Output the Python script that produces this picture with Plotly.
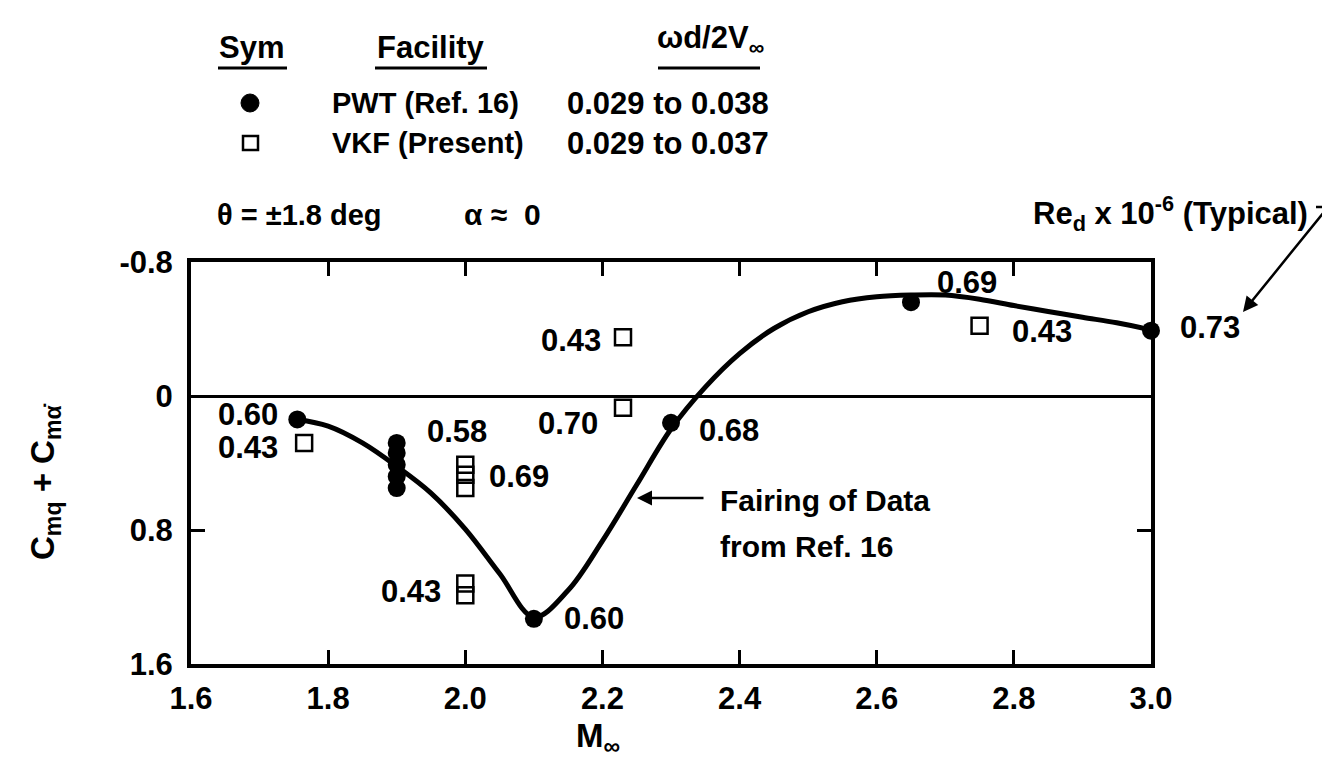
import plotly.graph_objects as go

# ---------------- data ----------------
# PWT (Ref. 16) – filled circles
mach_pwt = [1.755, 1.9, 1.9, 1.9, 1.9, 1.9, 2.1, 2.3, 2.65, 3.0]
cm_pwt = [0.14, 0.28, 0.34, 0.41, 0.48, 0.55, 1.33, 0.16, -0.56, -0.39]

# VKF (Present) – open squares
mach_vkf = [1.765, 2.0, 2.0, 2.0, 2.0, 2.0, 2.23, 2.23, 2.75]
cm_vkf = [0.28, 0.41, 0.47, 0.55, 1.12, 1.19, -0.35, 0.07, -0.42]

# Fairing of data from Ref. 16
mach_fair = [1.755, 1.80, 1.85, 1.90, 1.95, 2.00, 2.05, 2.10, 2.15, 2.20, 2.25, 2.30,
             2.35, 2.40, 2.45, 2.50, 2.55, 2.60, 2.65, 2.70, 2.75, 2.80, 2.85, 2.90,
             2.95, 3.00]
cm_fair = [0.14, 0.18, 0.28, 0.42, 0.58, 0.795, 1.06, 1.32, 1.16, 0.865, 0.53, 0.197,
           -0.053, -0.253, -0.403, -0.503, -0.563, -0.593, -0.603, -0.603, -0.578,
           -0.54, -0.505, -0.47, -0.437, -0.394]

# Reynolds number labels (Re_d x 10^-6), attached to point indices
pwt_label_idx = [0, 1, 6, 7, 8, 9]
pwt_label_txt = ["0.60", "0.58", "0.60", "0.68", "0.69", "0.73"]
vkf_label_idx = [0, 2, 4, 6, 7, 8]
vkf_label_txt = ["0.43", "0.69", "0.43", "0.43", "0.70", "0.43"]

x_ticks = [1.6, 1.8, 2.0, 2.2, 2.4, 2.6, 2.8, 3.0]
x_tick_text = ["1.6", "1.8", "2.0", "2.2", "2.4", "2.6", "2.8", "3.0"]
y_ticks = [-0.8, 0, 0.8, 1.6]
y_tick_text = ["-0.8", "0", "0.8", "1.6"]

# ---------------- style / layout ----------------
PAGE_OFF = 8                      # default body margin of the html page
W, H = 1330 - PAGE_OFF, 778 - PAGE_OFF
L, R, T, B = 191, 1151, 262, 664  # plot area in page pixels
FONT = "Liberation Sans, Arial, sans-serif"
FS = 31


def px(xp):
    return (xp - L) / (R - L)


def py(yp):
    return (B - yp) / (B - T)


# label offsets (pixels): xshift, yshift, xanchor
pwt_label_style = [(-17, 5, "right"), (28, 11, "left"), (28, 0, "left"),
                   (26, -8, "left"), (24, 20, "left"), (27, 3, "left")]
vkf_label_style = [(-24, -5, "right"), (22, -2, "left"), (-22, -8, "right"),
                   (-20, -3, "right"), (-23, -16, "right"), (30, -6, "left")]

fig = go.Figure()

fig.add_trace(go.Scatter(
    x=mach_fair, y=cm_fair, mode="lines",
    line=dict(color="black", width=5, shape="spline", smoothing=1.0),
    hoverinfo="skip", showlegend=False))

fig.add_trace(go.Scatter(
    x=mach_pwt, y=cm_pwt, mode="markers",
    marker=dict(symbol="circle", size=18, color="black"),
    showlegend=False, cliponaxis=False))

fig.add_trace(go.Scatter(
    x=mach_vkf, y=cm_vkf, mode="markers",
    marker=dict(symbol="square-open", size=16, color="black", line=dict(width=2.5)),
    showlegend=False, cliponaxis=False))

ann = []
for i, t, (dx, dy, xa) in zip(pwt_label_idx, pwt_label_txt, pwt_label_style):
    ann.append(dict(x=mach_pwt[i], y=cm_pwt[i], xref="x", yref="y", text=t,
                    showarrow=False, xanchor=xa, yanchor="middle",
                    xshift=dx, yshift=dy, font=dict(size=FS)))
for i, t, (dx, dy, xa) in zip(vkf_label_idx, vkf_label_txt, vkf_label_style):
    ann.append(dict(x=mach_vkf[i], y=cm_vkf[i], xref="x", yref="y", text=t,
                    showarrow=False, xanchor=xa, yanchor="middle",
                    xshift=dx, yshift=dy, font=dict(size=FS)))


def ptext(xp, yp, text, xa="left", size=FS, angle=0):
    ann.append(dict(x=px(xp), y=py(yp), xref="paper", yref="paper", text=text,
                    showarrow=False, xanchor=xa, yanchor="middle",
                    font=dict(size=size), textangle=angle))


def parrow(hx, hy, tx, ty):
    ann.append(dict(x=px(hx), y=py(hy), xref="paper", yref="paper",
                    ax=tx - hx, ay=ty - hy, axref="pixel", ayref="pixel",
                    showarrow=True, arrowhead=2, arrowsize=1.2, arrowwidth=2.5,
                    arrowcolor="black", text=""))


# header / legend table
ptext(251, 47, "Sym", "center")
ptext(431, 47, "Facility", "center")
ptext(710, 40, "ωd/2V<sub>∞</sub>", "center")
ptext(330, 103, "PWT (Ref. 16)", size=29)
ptext(565, 103, "0.029 to 0.038", size=31)
ptext(330, 143, "VKF (Present)", size=29)
ptext(565, 143, "0.029 to 0.037", size=31)
ptext(215, 215, "θ = ±1.8 deg", size=29)
ptext(462, 215, "α ≈  0", size=30)
ptext(1310, 213, "Re<sub>d</sub> x 10<sup>-6</sup> (Typical)", "right", size=31)

# fairing note
ptext(718, 500, "Fairing of Data", size=30)
ptext(718, 546, "from Ref. 16", size=30)
parrow(637, 498, 705, 498)
# Reynolds leader arrow
parrow(1243, 312, 1328, 207)

# axis titles
ptext(45, 482, "C<sub>mq</sub> + C<sub>mα̇</sub>", "center", size=33, angle=-90)
ptext(598, 738, "M<sub>∞</sub>", "center", size=33)

LINE = dict(color="black", width=3)
shapes = [
    dict(type="line", xref="paper", yref="paper", x0=px(218), x1=px(287), y0=py(68), y1=py(68), line=LINE),
    dict(type="line", xref="paper", yref="paper", x0=px(375), x1=px(487), y0=py(68), y1=py(68), line=LINE),
    dict(type="line", xref="paper", yref="paper", x0=px(658), x1=px(760), y0=py(68), y1=py(68), line=LINE),
    dict(type="line", xref="paper", yref="paper", x0=px(1316), x1=px(1329), y0=py(207), y1=py(207),
         line=dict(color="black", width=2.5)),
    # legend symbols
    dict(type="circle", xref="paper", yref="paper", x0=px(241), x1=px(259), y0=py(94), y1=py(112),
         fillcolor="black", line=dict(color="black", width=1)),
    dict(type="rect", xref="paper", yref="paper", x0=px(243), x1=px(258), y0=py(136), y1=py(150),
         fillcolor="white", line=dict(color="black", width=2.5)),
]

fig.update_layout(
    width=W, height=H,
    margin=dict(l=L - PAGE_OFF, r=1330 - R, t=T - PAGE_OFF, b=778 - B, pad=0),
    paper_bgcolor="white", plot_bgcolor="white",
    font=dict(family=FONT, size=FS, color="black", weight="bold"),
    showlegend=False,
    annotations=ann, shapes=shapes,
    xaxis=dict(range=[1.6, 3.0], tickvals=x_ticks, ticktext=x_tick_text,
               showgrid=False, zeroline=False, showline=True, linewidth=4,
               linecolor="black", mirror="allticks", ticks="inside", ticklen=14,
               tickwidth=2.5, tickcolor="black", tickfont=dict(size=FS), ticklabelstandoff=4),
    yaxis=dict(range=[1.6, -0.8], tickvals=y_ticks, ticktext=y_tick_text,
               showgrid=False, zeroline=True, zerolinecolor="black", zerolinewidth=3,
               showline=True, linewidth=4, linecolor="black", mirror="allticks",
               ticks="inside", ticklen=14, tickwidth=2.5, tickcolor="black",
               tickfont=dict(size=FS), ticklabelstandoff=8),
)

fig.write_html("out.html")
